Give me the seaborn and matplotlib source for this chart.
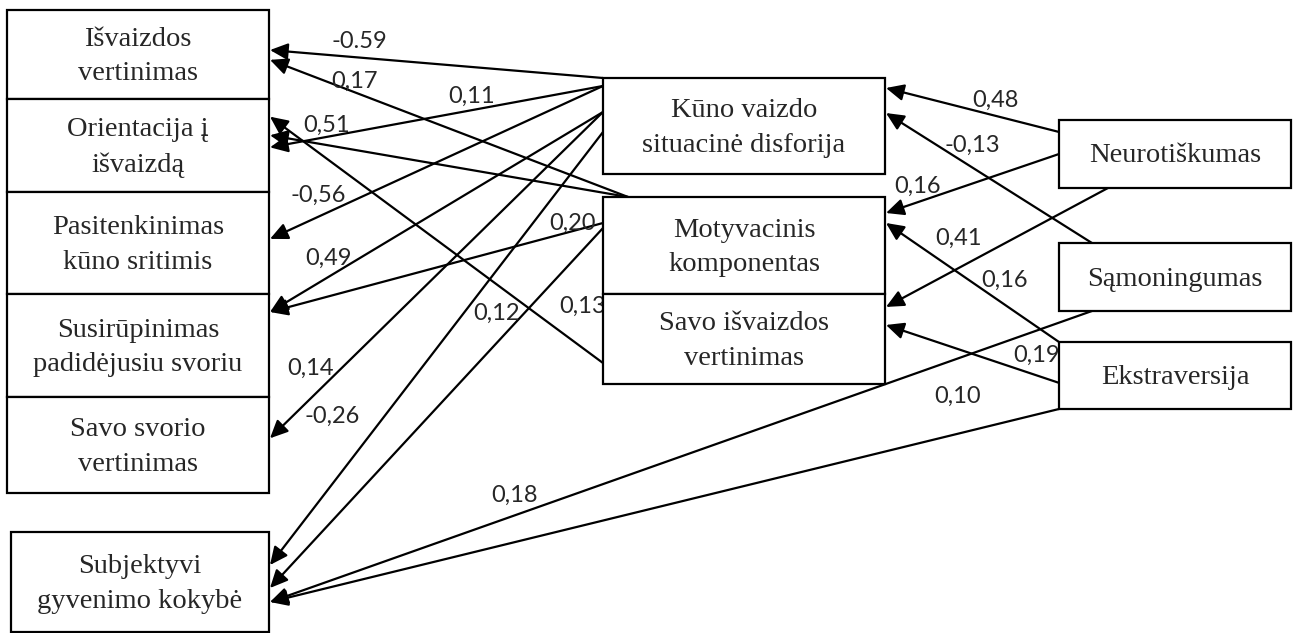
import matplotlib

matplotlib.use("Agg")

import matplotlib.pyplot as plt
import seaborn as sns
from matplotlib.patches import Rectangle

# node names (box captions)
OUTCOMES = [
    "Išvaizdos\nvertinimas",
    "Orientacija į\nišvaizdą",
    "Pasitenkinimas\nkūno sritimis",
    "Susirūpinimas\npadidėjusiu svoriu",
    "Savo svorio\nvertinimas",
    "Subjektyvi\ngyvenimo kokybė",
]
MEDIATORS = [
    "Kūno vaizdo\nsituacinė disforija",
    "Motyvacinis\nkomponentas",
    "Savo išvaizdos\nvertinimas",
]
TRAITS = ["Neurotiškumas", "Sąmoningumas", "Ekstraversija"]

# paths: source -> target with standardized coefficient (text as printed)
EDGE_SOURCES = [
    "Kūno vaizdo\nsituacinė disforija", "Motyvacinis\nkomponentas",
    "Kūno vaizdo\nsituacinė disforija", "Motyvacinis\nkomponentas",
    "Savo išvaizdos\nvertinimas", "Kūno vaizdo\nsituacinė disforija",
    "Kūno vaizdo\nsituacinė disforija", "Motyvacinis\nkomponentas",
    "Kūno vaizdo\nsituacinė disforija", "Kūno vaizdo\nsituacinė disforija",
    "Motyvacinis\nkomponentas", "Sąmoningumas", "Ekstraversija",
    "Neurotiškumas", "Sąmoningumas", "Neurotiškumas", "Neurotiškumas",
    "Ekstraversija", "Ekstraversija",
]
EDGE_TARGETS = [
    "Išvaizdos\nvertinimas", "Išvaizdos\nvertinimas",
    "Orientacija į\nišvaizdą", "Orientacija į\nišvaizdą",
    "Orientacija į\nišvaizdą", "Pasitenkinimas\nkūno sritimis",
    "Susirūpinimas\npadidėjusiu svoriu", "Susirūpinimas\npadidėjusiu svoriu",
    "Savo svorio\nvertinimas", "Subjektyvi\ngyvenimo kokybė",
    "Subjektyvi\ngyvenimo kokybė", "Subjektyvi\ngyvenimo kokybė",
    "Subjektyvi\ngyvenimo kokybė",
    "Kūno vaizdo\nsituacinė disforija", "Kūno vaizdo\nsituacinė disforija",
    "Motyvacinis\nkomponentas", "Savo išvaizdos\nvertinimas",
    "Motyvacinis\nkomponentas", "Savo išvaizdos\nvertinimas",
]
COEFFICIENTS = [
    "-0.59", "0,17", "0,11", "0,51", "0,13", "-0,56", "0,49", "0,20",
    "0,14", "-0,26", "0,12", "0,18", "0,10",
    "0,48", "-0,13", "0,16", "0,41", "0,16", "0,19",
]

# ---- layout (pixel space, y grows downward) ----
BOXES = {
    "Išvaizdos\nvertinimas": (7, 10, 269, 99),
    "Orientacija į\nišvaizdą": (7, 99, 269, 192),
    "Pasitenkinimas\nkūno sritimis": (7, 192, 269, 294),
    "Susirūpinimas\npadidėjusiu svoriu": (7, 294, 269, 397),
    "Savo svorio\nvertinimas": (7, 397, 269, 493),
    "Subjektyvi\ngyvenimo kokybė": (11, 532, 269, 632),
    "Kūno vaizdo\nsituacinė disforija": (603, 78, 885, 174),
    "Motyvacinis\nkomponentas": (603, 197, 885, 294),
    "Savo išvaizdos\nvertinimas": (603, 294, 885, 384),
    "Neurotiškumas": (1059, 120, 1291, 188),
    "Sąmoningumas": (1059, 243, 1291, 311),
    "Ekstraversija": (1059, 342, 1291, 409),
}
# where each path leaves / enters a box: (side, fraction along that side)
START_ANCHORS = [
    ("left", 0.0), ("top", 0.089), ("left", 0.083), ("top", 0.089),
    ("left", 0.767), ("left", 0.083), ("left", 0.354), ("left", 0.268),
    ("left", 0.354), ("left", 0.5625), ("left", 0.32), ("bottom", 0.142),
    ("left", 1.0),
    ("left", 0.176), ("top", 0.142), ("left", 0.5), ("bottom", 0.211),
    ("left", 0.0), ("left", 0.61),
]
END_ANCHORS = [
    ("right", 0.45), ("right", 0.56), ("right", 0.52), ("right", 0.39),
    ("right", 0.19), ("right", 0.46), ("right", 0.175), ("right", 0.175),
    ("right", 0.43), ("right", 0.33), ("right", 0.56), ("right", 0.70),
    ("right", 0.70),
    ("right", 0.104), ("right", 0.365), ("right", 0.165), ("right", 0.144),
    ("right", 0.268), ("right", 0.344),
]
# label centre x / baseline y
LABEL_POS = [
    (359, 48), (354, 88), (472, 103), (327, 132), (583, 313), (318, 202),
    (328, 265), (572, 230), (310, 375), (332, 423), (496, 320), (515, 502),
    (958, 403),
    (995, 107), (972, 152), (918, 193), (958, 245), (1005, 287), (1037, 362),
]


def anchor(name, side, frac):
    x0, y0, x1, y1 = BOXES[name]
    if side == "left":
        return x0, y0 + frac * (y1 - y0)
    if side == "right":
        return x1 + 1, y0 + frac * (y1 - y0)
    if side == "top":
        return x0 + frac * (x1 - x0), y0
    return x0 + frac * (x1 - x0), y1


sns.set_theme(style="white")
plt.rcParams["font.family"] = ["Liberation Serif", "DejaVu Serif"]

fig = plt.figure(figsize=(12.93, 6.33), dpi=100)
ax = fig.add_axes([0, 0, 1, 1])
ax.set_xlim(0, 1293)
ax.set_ylim(633, 0)
ax.axis("off")

arrow_style = dict(
    arrowstyle="-|>,head_length=0.6,head_width=0.28",
    mutation_scale=18,
    lw=1.6,
    color="black",
    shrinkA=0,
    shrinkB=0,
)

for src, tgt, coef, (s_side, s_frac), (t_side, t_frac), (lx, ly) in zip(
    EDGE_SOURCES, EDGE_TARGETS, COEFFICIENTS, START_ANCHORS, END_ANCHORS, LABEL_POS
):
    start = anchor(src, s_side, s_frac)
    end = anchor(tgt, t_side, t_frac)
    ax.annotate("", xy=end, xytext=start, arrowprops=arrow_style, zorder=2)
    ax.text(lx, ly, coef, ha="center", va="baseline", fontsize=17,
            family=["Lato", "DejaVu Sans"], zorder=2.5)

for name in OUTCOMES + MEDIATORS + TRAITS:
    x0, y0, x1, y1 = BOXES[name]
    ax.add_patch(Rectangle((x0, y0), x1 - x0, y1 - y0, facecolor="white",
                           edgecolor="black", lw=1.6, zorder=3))
    ax.text((x0 + x1) / 2, (y0 + y1) / 2 + 2, name, ha="center", va="center",
            fontsize=20.5, linespacing=1.5, zorder=4)

fig.savefig("out.png", dpi=100)
plt.close(fig)
